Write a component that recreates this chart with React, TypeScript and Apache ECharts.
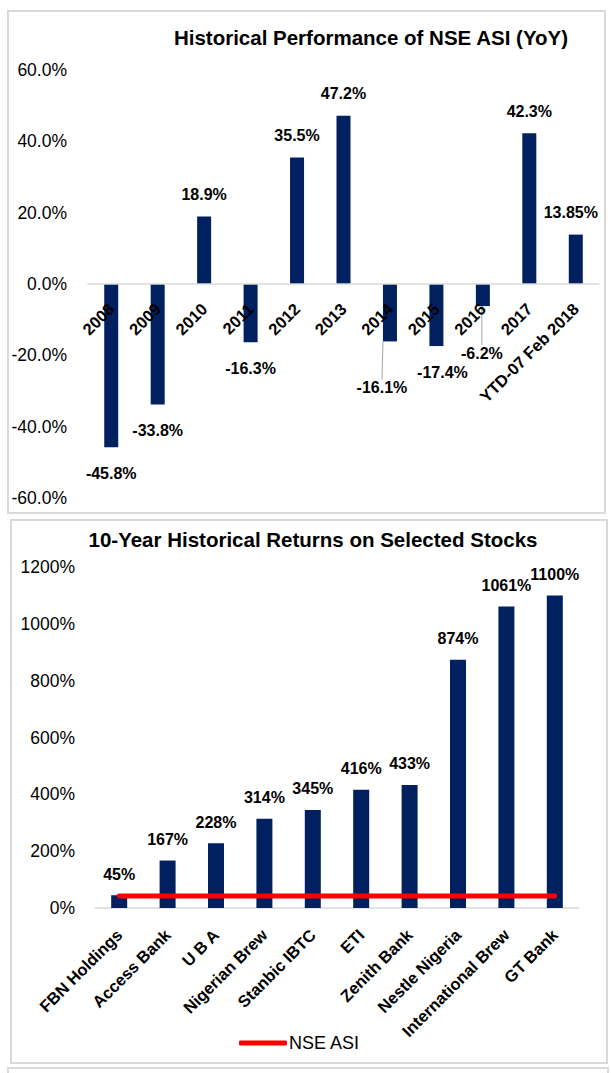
import React, { useEffect, useRef } from "react";
import * as echarts from "echarts";

const yoyCategories = ["2008", "2009", "2010", "2011", "2012", "2013", "2014", "2015", "2016", "2017", "YTD-07 Feb 2018"];
const yoyValues = [-45.8, -33.8, 18.9, -16.3, 35.5, 47.2, -16.1, -17.4, -6.2, 42.3, 13.85];
const yoyTicks = { min: -60, max: 60, interval: 20 };

const stockCategories = ["FBN Holdings", "Access Bank", "U B A", "Nigerian Brew", "Stanbic IBTC", "ETI", "Zenith Bank", "Nestle Nigeria", "International Brew", "GT Bank"];
const stockReturns = [45, 167, 228, 314, 345, 416, 433, 874, 1061, 1100];
const nseAsiReturn = [42, 42, 42, 42, 42, 42, 42, 42, 42, 42];
const stockTicks = { min: 0, max: 1200, interval: 200 };

const FONT = "'Liberation Sans', Arial, Helvetica, sans-serif";
const NAVY = "#002060";

// label displacement for a few labels (pixels)
const yoyLabelShift: Record<number, { dx: number; dy: number; line?: boolean }> = {
  6: { dx: -8, dy: 20, line: true },
  7: { dx: 6, dy: 0 },
  8: { dx: -1, dy: 21, line: true },
  10: { dx: -5, dy: 0 },
};

const TOP_GRID = { left: 88, right: 12, top: 70, height: 428 };
const BOT_GRID = { left: 95, right: 32, top: 567, height: 341 };

export default function App() {
  const ref = useRef<HTMLDivElement>(null);
  useEffect(() => {
    document.body.style.margin = "0";
    const chart = echarts.init(ref.current!, null, { renderer: "svg" });
    const yLabel = { fontFamily: FONT, color: "#000", fontSize: 17.5 };
    const xLabel = { fontFamily: FONT, color: "#000", fontSize: 16.5, fontWeight: "bold" };
    const dataLabel = { fontFamily: FONT, fontWeight: "bold", fontSize: 16, color: "#000" };
    // shift the category axis of the top chart to the zero line through the value scale
    const zeroOffset = -((0 - yoyTicks.min) / (yoyTicks.max - yoyTicks.min)) * TOP_GRID.height;
    const option: any = {
      animation: false,
      textStyle: { fontFamily: FONT },
      graphic: [
        { type: "rect", shape: { x: 8, y: 11, width: 597, height: 502 }, style: { fill: "none", stroke: "#d9d9d9", lineWidth: 2 } },
        { type: "rect", shape: { x: 11, y: 520, width: 596, height: 543 }, style: { fill: "none", stroke: "#d9d9d9", lineWidth: 2 } },
        { type: "rect", shape: { x: 8, y: 1068, width: 600, height: 30 }, style: { fill: "none", stroke: "#d9d9d9", lineWidth: 2 } },
      ],
      title: [
        { text: "Historical Performance of NSE ASI (YoY)", left: 371, textAlign: "center", top: 27, padding: 0, textStyle: { fontFamily: FONT, fontWeight: "bold", fontSize: 20.5, color: "#000" } },
        { text: "10-Year Historical Returns on Selected Stocks", left: 313, textAlign: "center", top: 529, padding: 0, textStyle: { fontFamily: FONT, fontWeight: "bold", fontSize: 20.5, color: "#000" } },
      ],
      legend: {
        data: [{ name: "NSE ASI", icon: "roundRect" }],
        left: 239,
        top: 1034,
        padding: 0,
        itemWidth: 48,
        itemHeight: 5,
        itemGap: 4,
        textStyle: { fontFamily: FONT, fontSize: 18, color: "#000", padding: [0, 0, 0, -3] },
      },
      grid: [TOP_GRID, BOT_GRID],
      xAxis: [
        {
          type: "category", gridIndex: 0, data: yoyCategories, position: "bottom", offset: zeroOffset,
          axisLine: { show: true, onZero: false, lineStyle: { color: "#d9d9d9", width: 1.5 } },
          axisTick: { show: false },
          axisLabel: { ...xLabel, rotate: 45, margin: 22, interval: 0 },
          z: 5,
        },
        {
          type: "category", gridIndex: 1, data: stockCategories,
          axisLine: { show: true, lineStyle: { color: "#d9d9d9", width: 1.5 } },
          axisTick: { show: false },
          axisLabel: { ...xLabel, rotate: 45, margin: 24, interval: 0 },
        },
      ],
      yAxis: [
        {
          type: "value", gridIndex: 0, ...yoyTicks,
          axisLine: { show: false }, axisTick: { show: false }, splitLine: { show: false },
          axisLabel: { ...yLabel, margin: 21, formatter: (v: number) => v.toFixed(1) + "%" },
        },
        {
          type: "value", gridIndex: 1, ...stockTicks,
          axisLine: { show: false }, axisTick: { show: false }, splitLine: { show: false },
          axisLabel: { ...yLabel, margin: 20, formatter: (v: number) => v + "%" },
        },
      ],
      series: [
        {
          type: "bar", xAxisIndex: 0, yAxisIndex: 0, barWidth: 14,
          itemStyle: { color: NAVY },
          data: yoyValues.map((v, i) => ({
            value: v,
            label: { position: v < 0 ? "bottom" : "top", distance: v < 0 ? 18 : 14 },
            labelLine: { show: !!(yoyLabelShift[i] && yoyLabelShift[i].line), lineStyle: { color: "#a6a6a6", width: 1 } },
          })),
          label: { show: true, ...dataLabel, formatter: (p: any) => String(p.value) + "%" },
          labelLayout: (p: any) => {
            const s = yoyLabelShift[p.dataIndex];
            return s ? { dx: s.dx, dy: s.dy } : {};
          },
        },
        {
          type: "bar", name: "Returns", xAxisIndex: 1, yAxisIndex: 1, barWidth: 16,
          itemStyle: { color: NAVY },
          data: stockReturns,
          label: { show: true, position: "top", distance: 13, ...dataLabel, formatter: (p: any) => String(p.value) + "%" },
        },
        {
          type: "line", name: "NSE ASI", xAxisIndex: 1, yAxisIndex: 1,
          data: nseAsiReturn, symbol: "none", z: 10,
          lineStyle: { color: "#ff0000", width: 5, cap: "round" },
          itemStyle: { color: "#ff0000" },
        },
      ],
    };
    chart.setOption(option);
    return () => chart.dispose();
  }, []);
  return <div ref={ref} style={{ width: 611, height: 1073 }} />;
}
